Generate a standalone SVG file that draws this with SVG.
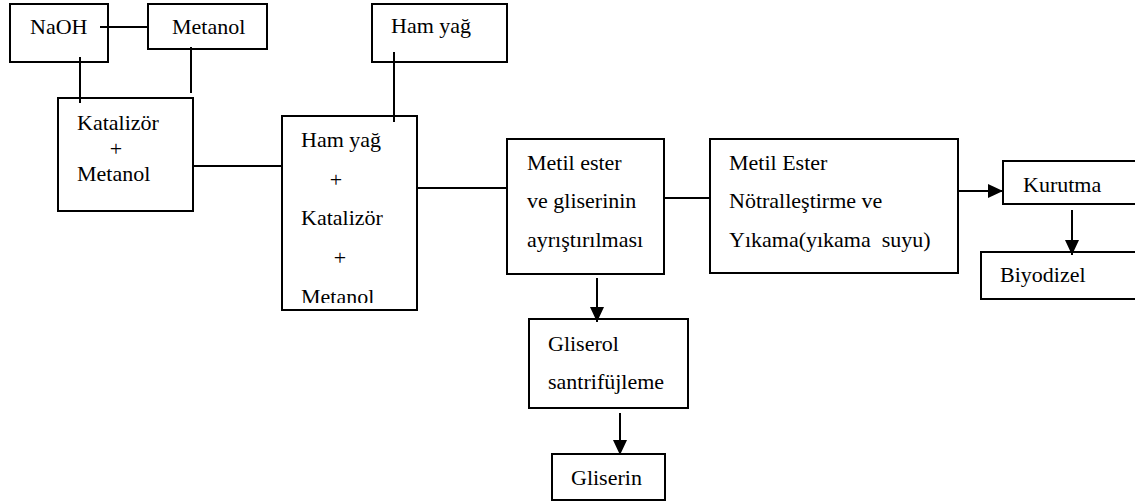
<svg xmlns="http://www.w3.org/2000/svg" width="1135" height="502" viewBox="0 0 1135 502">
<style>
.box{fill:#fff;stroke:#000;stroke-width:2}
.ln{fill:none;stroke:#000;stroke-width:2}
text{font-family:"Liberation Serif","Times New Roman",serif;font-size:22px;fill:#000}
.c{text-anchor:middle}
</style>
<defs>
<marker id="ah" viewBox="0 0 15 14" refX="15" refY="7" markerWidth="15" markerHeight="14" markerUnits="userSpaceOnUse" orient="auto">
<path d="M0,0 L15,7 L0,14 z" fill="#000"/>
</marker>
<clipPath id="bigclip"><rect x="282" y="116" width="135" height="187"/></clipPath>
</defs>
<rect width="1135" height="502" fill="#fff"/>
<g id="nodes">
<g id="naoh"><rect class="box" x="10" y="4" width="98" height="58"/><text x="30" y="34">NaOH</text></g>
<g id="metanol"><rect class="box" x="148" y="4" width="119" height="45"/><text x="172" y="34">Metanol</text></g>
<g id="hamyag"><rect class="box" x="372" y="4" width="135" height="58"/><text x="391" y="33">Ham yağ</text></g>
<g id="katalizor"><rect class="box" x="58" y="98" width="135" height="113"/><text x="77" y="130">Katalizör</text><text class="c" x="116" y="156">+</text><text x="77" y="181">Metanol</text></g>
<g id="karisim"><rect class="box" x="282" y="116" width="135" height="194"/>
<g clip-path="url(#bigclip)"><text x="301" y="147">Ham yağ</text><text class="c" x="336" y="187">+</text><text x="301" y="225">Katalizör</text><text class="c" x="340" y="265">+</text><text x="301" y="304">Metanol</text></g></g>
<g id="ayristirma"><rect class="box" x="507" y="139" width="157" height="135"/><text x="527" y="170">Metil ester</text><text x="527" y="208">ve gliserinin</text><text x="527" y="247">ayrıştırılması</text></g>
<g id="notrallestirme"><rect class="box" x="710" y="139" width="248" height="134"/><text x="729" y="170">Metil Ester</text><text x="729" y="208">Nötralleştirme ve</text><text x="729" y="247" xml:space="preserve">Yıkama(yıkama  suyu)</text></g>
<g id="kurutma"><rect class="box" x="1003" y="161" width="140" height="43"/><text x="1023" y="192">Kurutma</text></g>
<g id="biyodizel"><rect class="box" x="981" y="252" width="162" height="47"/><text x="1000" y="282">Biyodizel</text></g>
<g id="gliserol"><rect class="box" x="529" y="319" width="159" height="89"/><text x="548" y="351">Gliserol</text><text x="548" y="389">santrifüjleme</text></g>
<g id="gliserin"><rect class="box" x="552" y="454" width="113" height="46"/><text x="571" y="485">Gliserin</text></g>
</g>
<g id="connectors">
<line class="ln" x1="100" y1="27" x2="148" y2="27"/>
<line class="ln" x1="80" y1="57" x2="80" y2="103"/>
<line class="ln" x1="191" y1="47" x2="191" y2="93"/>
<line class="ln" x1="193" y1="166" x2="282" y2="166"/>
<line class="ln" x1="394" y1="52" x2="394" y2="122"/>
<line class="ln" x1="417" y1="188" x2="507" y2="188"/>
<line class="ln" x1="664" y1="198" x2="710" y2="198"/>
<line class="ln" x1="958" y1="191" x2="1003" y2="191" marker-end="url(#ah)"/>
<line class="ln" x1="1072" y1="210" x2="1072" y2="255" marker-end="url(#ah)"/>
<line class="ln" x1="597" y1="278" x2="597" y2="322" marker-end="url(#ah)"/>
<line class="ln" x1="620" y1="413" x2="620" y2="455" marker-end="url(#ah)"/>
</g>
</svg>
